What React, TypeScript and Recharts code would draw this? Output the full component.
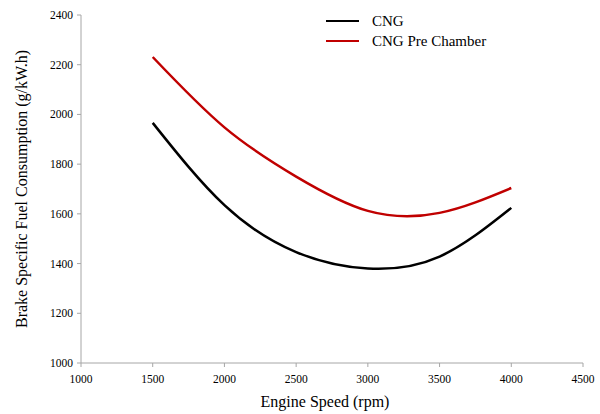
import { LineChart, Line, XAxis, YAxis, Label } from 'recharts';

const speeds = [1500, 2000, 2500, 3000, 3500, 4000];
const cng = [1966, 1635, 1446, 1380, 1428, 1624];
const cngPreChamber = [2231, 1948, 1750, 1612, 1604, 1704];
const xTicks = [1000, 1500, 2000, 2500, 3000, 3500, 4000, 4500];
const yTicks = [1000, 1200, 1400, 1600, 1800, 2000, 2200, 2400];

const data = speeds.map((s, i) => ({ speed: s, cng: cng[i], pre: cngPreChamber[i] }));

const font = "'Liberation Serif', 'Times New Roman', serif";

function Tick(props: any) {
    const { x, y, payload, textAnchor, dy } = props;
    return (
        <text x={x} y={y} dy={dy ?? 0} textAnchor={textAnchor} fill="#000" fontSize={11.5} fontFamily={font} dominantBaseline="central">
            {payload.value}
        </text>
    );
}

function LegendBox() {
    const items = [
        { label: 'CNG', color: '#000000' },
        { label: 'CNG Pre Chamber', color: '#c00000' },
    ];
    return (
        <div style={{ position: 'absolute', top: 11, left: 326, fontFamily: font, fontSize: 15, color: '#000' }}>
            {items.map((it) => (
                <div key={it.label} style={{ display: 'flex', alignItems: 'center', height: 20 }}>
                    <span style={{ display: 'inline-block', width: 33, height: 2, background: it.color, marginRight: 13 }} />
                    <span>{it.label}</span>
                </div>
            ))}
        </div>
    );
}

export default function App() {
    return (
        <div style={{ position: 'absolute', top: 0, left: 0, width: 600, height: 414, background: '#fff', fontFamily: font }}>
            <LineChart width={600} height={414} data={data} margin={{ top: 15, right: 17, bottom: 21, left: 0 }}>
                <XAxis
                    dataKey="speed"
                    type="number"
                    domain={[1000, 4500]}
                    ticks={xTicks}
                    height={30}
                    stroke="#a6a6a6"
                    tickSize={4}
                    tick={(p: any) => <Tick {...p} y={p.y + 8} />}
                    tickMargin={4}
                >
                    <Label value="Engine Speed (rpm)" position="insideBottom" offset={-14} dx={-7} style={{ fill: '#000', fontSize: 16, fontFamily: font }} />
                </XAxis>
                <YAxis
                    type="number"
                    domain={[1000, 2400]}
                    ticks={yTicks}
                    width={81}
                    stroke="#a6a6a6"
                    tickSize={4}
                    tick={(p: any) => <Tick {...p} dy={0} />}
                    tickMargin={4}
                >
                    <Label value="Brake Specific Fuel Consumption (g/kW.h)" angle={-90} position="insideLeft" offset={21} style={{ fill: '#000', fontSize: 16, fontFamily: font, textAnchor: 'middle' }} />
                </YAxis>
                <Line type="natural" dataKey="cng" name="CNG" stroke="#000000" strokeWidth={2.5} dot={false} isAnimationActive={false} />
                <Line type="natural" dataKey="pre" name="CNG Pre Chamber" stroke="#c00000" strokeWidth={2.5} dot={false} isAnimationActive={false} />
            </LineChart>
            <LegendBox />
        </div>
    );
}
